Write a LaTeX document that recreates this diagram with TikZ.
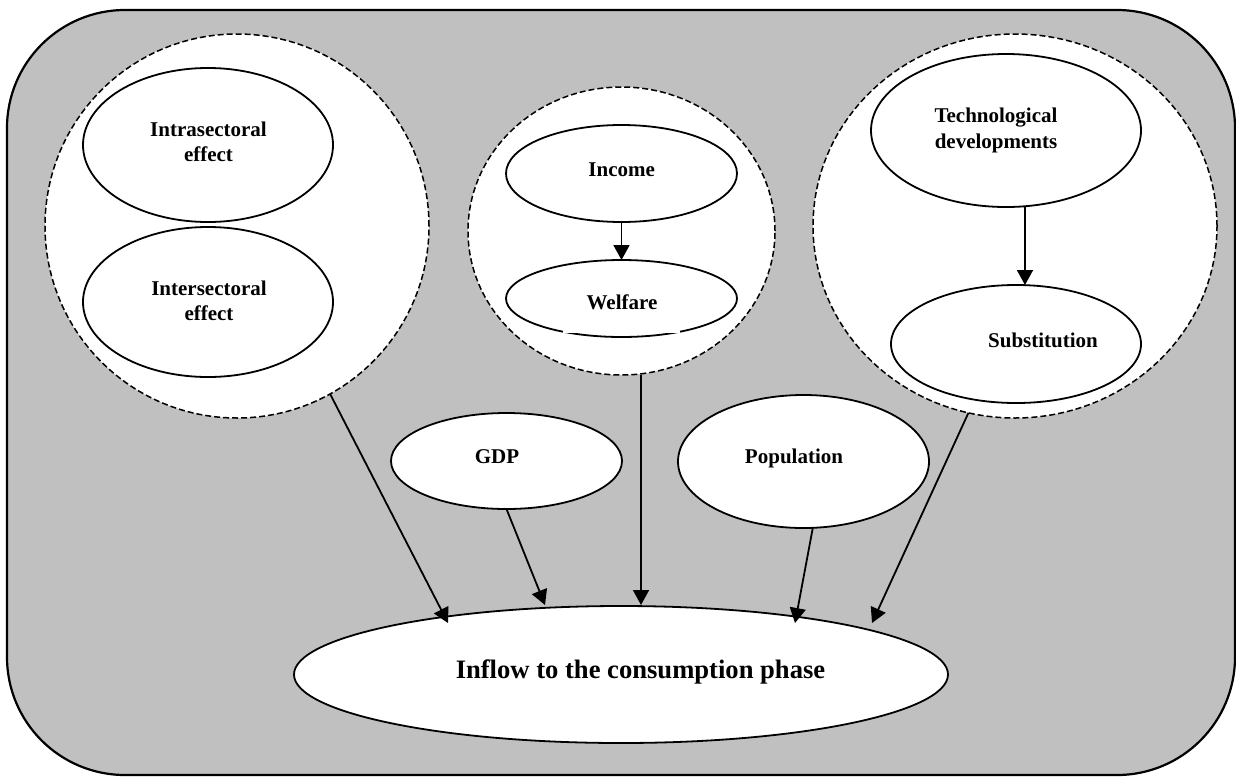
\documentclass[tikz,border=0pt]{standalone}
\usepackage{fontspec}
\setmainfont{Liberation Serif}
\usetikzlibrary{shapes.geometric,arrows.meta}
\definecolor{panelgray}{RGB}{192,192,192}
\tikzset{
  group/.style={ellipse, draw, dash pattern=on 6pt off 3pt, line width=1.5pt, fill=white, inner sep=0pt, outer sep=0pt},
  factor/.style={ellipse, draw, line width=1.8pt, fill=white, inner sep=0pt, outer sep=0pt},
  lbl/.style={inner sep=0pt, font=\bfseries\fontsize{21}{25.2}\selectfont, align=center},
  biglbl/.style={inner sep=0pt, font=\bfseries\fontsize{26.6}{30}\selectfont},
  arr/.style={line width=1.8pt, -{Triangle[length=15pt,width=16pt]}},
}
\begin{document}
\begin{tikzpicture}[x=1pt,y=-1pt]
\useasboundingbox (0,0) rectangle (1236,777);

% outer panel
\draw[line width=2.2pt, fill=panelgray, rounded corners=118pt] (7,10) rectangle (1235,775);

% dashed groups
\node[group, minimum width=384pt, minimum height=384pt] (L) at (237,226) {};
\node[group, minimum width=307pt, minimum height=288pt] (M) at (621.5,231) {};
\node[group, minimum width=404pt, minimum height=384pt] (R) at (1015,226) {};

% factor ellipses
\node[factor, minimum width=250pt, minimum height=154pt] (intra) at (208,145) {};
\node[factor, minimum width=250pt, minimum height=150pt] (inter) at (208,302) {};
\node[factor, minimum width=231pt, minimum height=97pt] (income) at (621.5,173.5) {};
\node[factor, minimum width=231pt, minimum height=77pt] (welfare) at (621.5,298.5) {};
\node[factor, minimum width=270pt, minimum height=153pt] (tech) at (1006,130.5) {};
\node[factor, minimum width=250pt, minimum height=118pt] (subst) at (1016,344) {};
\node[factor, minimum width=231pt, minimum height=96pt] (gdp) at (506.5,461) {};
\node[factor, minimum width=251pt, minimum height=133pt] (pop) at (803.5,461.5) {};
\node[factor, minimum width=654pt, minimum height=137pt] (inflow) at (621,674.5) {};

% white text box over the foot of the welfare ellipse
\fill[white] (563,318) rectangle (680,333.3);

% connectors
\coordinate (tipL) at (448,623);
\coordinate (tipG) at (545,605);
\coordinate (tipM) at (641,605);
\coordinate (tipP) at (795,623);
\coordinate (tipR) at (872,623);
\coordinate (tsx) at (1025,0);
\draw[arr] (L.-61) -- (tipL);
\draw[arr] (gdp.south) -- (tipG);
\draw[arr] (M.south -| tipM) -- (tipM);
\draw[arr] (pop.-82) -- (tipP);
\draw[arr] (R.-104) -- (tipR);
\draw[arr] (income.south) -- (welfare.north);
\draw[arr] (tsx |- tech.south) -- (tsx |- subst.north);

% labels
\node[lbl] (intra-t) at (208.5,141.6) {Intrasectoral\\effect};
\node[lbl] (inter-t) at (209,300.6) {Intersectoral\\effect};
\node[lbl, anchor=base] (income-t) at (621.7,176) {Income};
\node[lbl, anchor=base] (welfare-t) at (622,309) {Welfare};
\node[lbl] (tech-t) at (996,130.5) {Technological\\developments};
\node[lbl, anchor=base] (subst-t) at (1043,347.3) {Substitution};
\node[lbl, anchor=base] (gdp-t) at (497,463.3) {GDP};
\node[lbl, anchor=base] (pop-t) at (794,463.3) {Population};
\node[biglbl, anchor=base] (inflow-t) at (640.5,678.3) {Inflow to the consumption phase};
\end{tikzpicture}
\end{document}
